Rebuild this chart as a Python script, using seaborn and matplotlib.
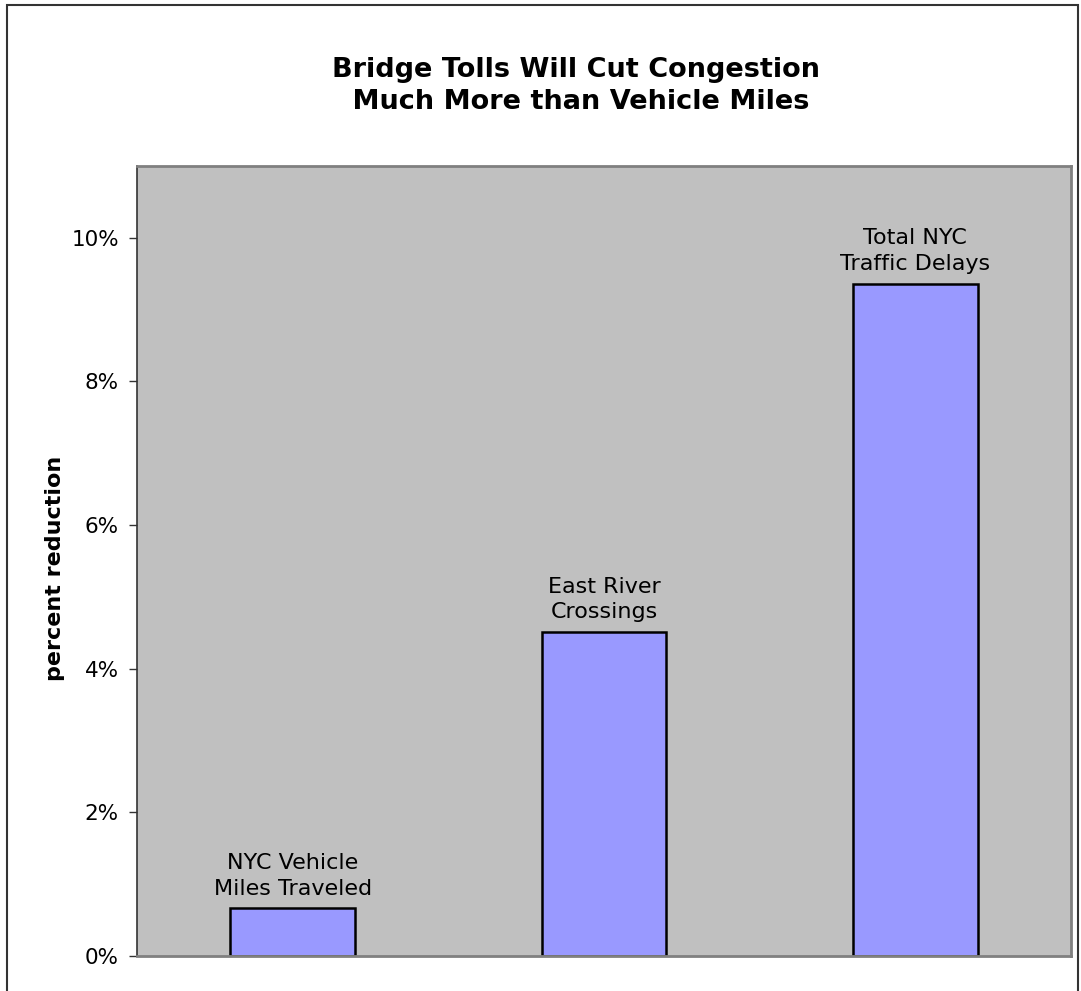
import matplotlib
matplotlib.use("Agg")
import matplotlib.pyplot as plt
import matplotlib.patches as mpatches
from matplotlib.ticker import FuncFormatter
import seaborn as sns
import pandas as pd

categories = ["NYC Vehicle\nMiles Traveled", "East River\nCrossings", "Total NYC\nTraffic Delays"]
values = [0.665, 4.51, 9.36]
yticks = [0, 2, 4, 6, 8, 10]
title = "Bridge Tolls Will Cut Congestion\n Much More than Vehicle Miles"
ylabel = "percent reduction"

sns.set_theme(style="white")
plt.rcParams['font.family'] = ['DejaVu Sans']
plt.rcParams['text.color'] = 'black'

df = pd.DataFrame({"cat": categories, "val": values})

fig = plt.figure(figsize=(10.81, 9.91), dpi=100)
ax = fig.add_axes([137/1081, 1-956/991, (1071-137)/1081, (956-165.7)/991])
sns.barplot(data=df, x="cat", y="val", ax=ax, color="#9999FF", width=0.4,
            edgecolor="black", linewidth=1.8, saturation=1)
for p in ax.patches:
    p.set_facecolor("#9999FF")

ax.set_facecolor("#C0C0C0")
ax.set_ylim(0, 11)
ax.set_xlim(-0.5, 2.5)
ax.set_yticks(yticks)
ax.yaxis.set_major_formatter(FuncFormatter(lambda v, _: f"{v:.0f}%"))
ax.tick_params(axis="y", left=True, length=6, width=1, color="#333333", pad=7,
               labelsize=15.5, labelcolor="black")
ax.tick_params(axis="x", bottom=False, labelbottom=False)
ax.set_xlabel("")
ax.set_ylabel(ylabel, fontsize=16, fontweight="bold", color="black")
ax.yaxis.set_label_coords((65-137)/934, 0.4905)
for side in ["top", "right", "bottom"]:
    ax.spines[side].set_color("#808080")
    ax.spines[side].set_linewidth(2)
ax.spines["left"].set_color("#333333")
ax.spines["left"].set_linewidth(1.2)

for i, (c, v) in enumerate(zip(categories, values)):
    ax.annotate(c, (i, v), xytext=(0, 7), textcoords="offset points",
                ha="center", va="bottom", fontsize=16, linespacing=1.35, color="black")

fig.text(576/1081, 1-86/991, title, ha="center", va="center", fontsize=19.5,
         fontweight="bold", linespacing=1.33, color="black")

fig.patches.append(mpatches.Rectangle((7/1081, -0.05), (1078-7)/1081, 1.05 - 5/991,
                                      transform=fig.transFigure, fill=False,
                                      edgecolor="#333333", linewidth=1.5))

fig.savefig("out.png", dpi=100)
